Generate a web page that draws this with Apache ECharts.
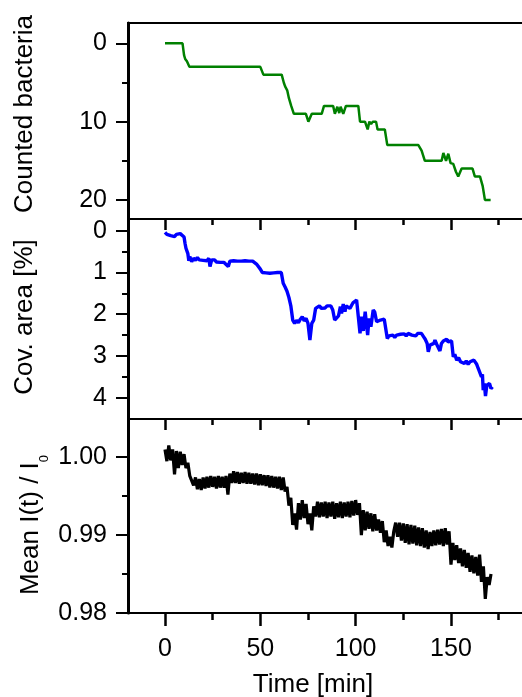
<!DOCTYPE html>
<html><head><meta charset="utf-8">
<script src="https://cdn.jsdelivr.net/npm/echarts@6/dist/echarts.min.js"></script>
<style>html,body{margin:0;padding:0;background:#fff;overflow:hidden}#c{width:522px;height:697px}</style>
</head><body><div id="c"></div>
<script>
// ---- tick values ----
const xTickLabels = [0, 50, 100, 150];
const xMinorTicks = [25, 75, 125, 175];
const countTicks = [0, 10, 20];
const countMinor = [5, 15];
const areaTicks = [0, 1, 2, 3, 4];
const areaMinor = [0.5, 1.5, 2.5, 3.5];
const intensityTicks = [0.98, 0.99, 1.00];
const intensityMinor = [0.985, 0.995];

// ---- data: [time (min), value] ----
const countData = [[0,0],[9.2,0],[10,1.5],[10.6,2],[11.5,2.3],[12.8,3],[50,3],[51.6,4],[61.2,4],[62.3,5],[63,5.5],[64.1,6],[65,7],[66.2,8],[67.6,9],[73.9,9],[75.2,10],[76,10],[77,9],[82.2,9],[83.4,8],[88.2,8],[89.1,9],[90.4,8.1],[91.4,8.9],[92.1,8.1],[93.5,9],[94.9,8],[101.4,8],[102.3,10],[104.9,10],[106.3,11],[107.2,10],[108.1,10.3],[109,10],[110.7,10],[111.5,11],[115.3,11],[116.6,13],[132.9,13],[134.6,13.7],[136.3,15],[145.1,15],[146,14],[147.4,15],[148.6,14.1],[149.8,15.3],[151.2,15.4],[152.6,16.4],[153.8,17],[155.6,16],[161.3,16],[162.5,17],[165.2,17],[166.6,18.2],[167.8,20],[170.8,20]];

const areaData = [[0,0.04],[1,0.09],[2,0.06],[3,0.12],[4,0.10],[5,0.14],[6,0.09],[7,0.12],[8,0.07],[9,0.10],[10,0.15],[10.5,0.30],[11,0.42],[12,0.55],[12.5,0.72],[13,0.62],[14,0.74],[15,0.66],[16,0.71],[17,0.64],[18,0.70],[19,0.66],[20,0.71],[21,0.67],[22,0.72],[23,0.66],[23.6,0.86],[24.5,0.70],[25,0.74],[26,0.70],[27,0.75],[28,0.71],[29,0.76],[30,0.72],[31,0.76],[32,0.72],[33.2,0.86],[34,0.73],[35,0.76],[36,0.72],[37,0.76],[38,0.73],[39,0.77],[40,0.73],[41,0.76],[42,0.72],[43,0.76],[44,0.73],[45,0.77],[46,0.73],[47,0.76],[48,0.80],[49,0.84],[50,0.92],[51,1.00],[52,0.96],[53,1.01],[54,0.97],[55,1.02],[56,0.98],[57,1.01],[58,0.97],[59,1.00],[60,0.97],[61,1.00],[62,1.26],[63,1.35],[64,1.45],[65,1.60],[66,1.80],[67,2.14],[68,2.22],[69,2.15],[70,2.20],[71,2.12],[72,2.06],[73,2.16],[74,2.10],[75,2.22],[76,2.62],[77,2.22],[78,2.14],[79,1.86],[80,1.84],[81,1.80],[82,1.86],[83,1.82],[84,1.85],[85,1.80],[86,1.84],[87,1.80],[88,1.90],[89,2.14],[90,2.10],[91,2.04],[92,1.82],[92.6,1.98],[93.5,1.76],[94.4,1.94],[95,1.80],[96,1.76],[97,1.86],[98,1.90],[98.7,1.72],[99.5,1.70],[100.5,1.66],[101.4,1.68],[102.3,2.46],[103,2.06],[104,2.40],[105,1.94],[106.3,2.50],[107,2.10],[108,2.30],[109.2,1.90],[110,1.95],[111,2.18],[112,2.20],[113,2.14],[114,2.16],[115,2.12],[116,2.16],[116.6,2.58],[117.5,2.52],[118.5,2.56],[119.5,2.50],[120.5,2.56],[121.5,2.50],[122.5,2.54],[123.5,2.48],[124.5,2.52],[125.5,2.47],[126.5,2.52],[127.5,2.46],[128.5,2.42],[129.5,2.50],[130.5,2.46],[131.5,2.52],[132.5,2.46],[133.5,2.50],[134.5,2.46],[135.5,2.53],[136.5,2.60],[137.5,2.70],[138.1,2.90],[139,2.74],[140,2.78],[141,2.70],[141.6,2.62],[142.5,2.72],[143.5,2.68],[144.2,2.88],[145,2.70],[146,2.64],[147,2.68],[147.7,2.60],[148.5,2.66],[149.5,2.62],[150.3,2.64],[151.2,3.02],[152,2.96],[153,3.10],[154,3.04],[155,3.14],[156,3.10],[157,3.18],[158,3.12],[159,3.20],[160,3.14],[161,3.16],[162,3.10],[162.5,3.08],[163.5,3.20],[164.3,3.30],[165,3.26],[166,3.50],[166.5,3.44],[166.9,3.82],[167.5,3.66],[168.1,3.96],[168.8,3.70],[169.5,3.74],[170.2,3.66],[171,3.78],[171.8,3.74]];

const intensityData = [[0,1.0010],[1,0.9995],[2,1.0015],[3,0.9996],[4,1.0010],[5,0.9978],[6,1.0008],[7,0.9986],[8,1.0007],[9,0.9990],[10,1.0004],[11,0.9986],[12,0.9993],[13,0.9976],[14,0.9978],[15,0.9964],[16,0.9974],[17,0.9959],[18,0.9972],[19,0.9958],[20,0.9974],[21,0.9960],[22,0.9975],[23,0.9961],[24,0.9976],[25,0.9962],[26,0.9975],[27,0.9960],[28,0.9976],[29,0.9961],[30,0.9975],[31,0.9961],[32,0.9976],[33,0.9952],[34,0.9979],[35,0.9967],[36,0.9982],[37,0.9967],[38,0.9981],[39,0.9966],[40,0.9980],[41,0.9967],[42,0.9981],[43,0.9966],[44,0.9980],[45,0.9966],[46,0.9979],[47,0.9965],[48,0.9979],[49,0.9964],[50,0.9978],[51,0.9964],[52,0.9977],[53,0.9963],[54,0.9977],[55,0.9961],[56,0.9976],[57,0.9961],[58,0.9975],[59,0.9960],[60,0.9975],[61,0.9958],[62,0.9974],[63,0.9956],[64,0.9962],[65,0.9938],[66,0.9948],[67,0.9913],[68,0.9928],[69,0.9907],[70,0.9941],[71,0.9920],[72,0.9945],[73,0.9922],[74,0.9940],[75,0.9914],[76,0.9928],[77,0.9906],[78,0.9937],[79,0.9924],[80,0.9943],[81,0.9923],[82,0.9942],[83,0.9924],[84,0.9943],[85,0.9922],[86,0.9942],[87,0.9924],[88,0.9943],[89,0.9921],[90,0.9941],[91,0.9923],[92,0.9943],[93,0.9922],[94,0.9942],[95,0.9924],[96,0.9943],[97,0.9923],[98,0.9944],[99,0.9925],[100,0.9945],[101,0.9926],[102,0.9941],[103,0.9900],[104,0.9932],[105,0.9906],[106,0.9930],[107,0.9908],[108,0.9928],[109,0.9905],[110,0.9927],[111,0.9906],[112,0.9920],[113,0.9903],[114,0.9918],[115,0.9891],[116,0.9906],[117,0.9886],[118,0.9898],[119,0.9884],[120,0.9905],[121,0.9916],[122,0.9898],[123,0.9916],[124,0.9893],[125,0.9915],[126,0.9890],[127,0.9914],[128,0.9888],[129,0.9913],[130,0.9889],[131,0.9912],[132,0.9887],[133,0.9910],[134,0.9886],[135,0.9909],[136,0.9884],[137,0.9906],[138,0.9882],[139,0.9904],[140,0.9886],[141,0.9906],[142,0.9887],[143,0.9907],[144,0.9888],[145,0.9908],[146,0.9886],[147,0.9909],[148,0.9888],[149,0.9905],[150,0.9862],[151,0.9890],[152,0.9868],[153,0.9887],[154,0.9864],[155,0.9883],[156,0.9860],[157,0.9881],[158,0.9858],[159,0.9877],[160,0.9853],[161,0.9874],[162,0.9851],[163,0.9872],[164,0.9848],[165,0.9875],[166,0.9840],[167,0.9860],[168,0.9818],[169,0.9846],[170,0.9836],[171,0.9850]];

// ---- layout ----
const FONT = '"Liberation Sans", Arial, Helvetica, sans-serif';
const X_MIN = -19.4, X_MAX = 188.3;
const GL = 128, GW = 396;

const chart = echarts.init(document.getElementById('c'), null, {renderer: 'canvas'});

function grid(top, height) {
  return {show: true, left: GL, top, width: GW, height, borderColor: '#000', borderWidth: 2,
          backgroundColor: 'transparent', containLabel: false, outerBoundsMode: 'none'};
}
function xAx(gi, position, ticks, len, inside, labels, name) {
  const a = {
    type: 'value', gridIndex: gi, position, min: X_MIN, max: X_MAX,
    axisLine: {show: false, onZero: false},
    splitLine: {show: false},
    axisTick: {show: true, inside, length: len, customValues: ticks, lineStyle: {color: '#000', width: 2.5}},
    axisLabel: {show: !!labels, customValues: ticks, margin: 24, fontSize: 25, color: '#000', fontFamily: FONT}
  };
  if (name) {
    a.name = name; a.nameLocation = 'middle'; a.nameGap = 59; a.nameMoveOverlap = false;
    a.nameTextStyle = {fontSize: 26, lineHeight: 26, color: '#000', fontFamily: FONT, padding: [0, 26, 0, 0]};
  }
  return a;
}
function yMajor(gi, min, max, inverse, ticks, fmt, name, nameGap, nameStyle) {
  return {
    type: 'value', gridIndex: gi, position: 'left', min, max, inverse,
    axisLine: {show: true, onZero: false, lineStyle: {color: '#000', width: 3}},
    axisTick: {show: true, inside: false, length: 12, customValues: ticks, lineStyle: {color: '#000', width: 2}},
    axisLabel: {show: true, customValues: ticks, formatter: fmt, margin: 21, fontSize: 25, color: '#000', fontFamily: FONT},
    splitLine: {show: false},
    name, nameLocation: 'middle', nameGap, nameRotate: 90, nameMoveOverlap: false,
    nameTextStyle: nameStyle
  };
}
function yMinor(gi, min, max, inverse, ticks) {
  return {
    type: 'value', gridIndex: gi, position: 'left', min, max, inverse,
    axisLine: {show: false, onZero: false},
    axisTick: {show: true, inside: false, length: 6, customValues: ticks, lineStyle: {color: '#000', width: 2}},
    axisLabel: {show: false},
    splitLine: {show: false}
  };
}

const nameBase = {fontSize: 26, lineHeight: 26, color: '#000', fontFamily: FONT};

const option = {
  animation: false,
  backgroundColor: '#fff',
  grid: [grid(23, 196), grid(219, 200), grid(419, 194)],
  xAxis: [
    xAx(0, 'bottom', [], 0, false, false),
    xAx(1, 'top', xTickLabels, 11, true, false),
    xAx(1, 'top', xMinorTicks, 6, true, false),
    xAx(2, 'top', xTickLabels, 11, true, false),
    xAx(2, 'top', xMinorTicks, 6, true, false),
    xAx(2, 'bottom', xTickLabels, 13, false, true, 'Time [min]'),
    xAx(2, 'bottom', xMinorTicks, 7, false, false)
  ],
  yAxis: [
    yMajor(0, -2.6, 22.44, true, countTicks, v => String(v), 'Counted bacteria', 90,
      Object.assign({}, nameBase, {padding: [0, 0, 0, 14]})),
    yMinor(0, -2.6, 22.44, true, countMinor),
    yMajor(1, -0.28, 4.51, true, areaTicks, v => String(v), 'Cov. area [%]', 90,
      Object.assign({}, nameBase, {padding: [0, 0, 0, 4]})),
    yMinor(1, -0.28, 4.51, true, areaMinor),
    yMajor(2, 0.98, 1.00491, false, intensityTicks, v => v.toFixed(2), '{m|Mean I(t) / I}{sub|0}', 84,
      {color: '#000', fontFamily: FONT, fontSize: 26, padding: [0, 18, 0, 0],
       rich: {
         m: {fontSize: 26, lineHeight: 26, color: '#000', fontFamily: FONT},
         sub: {fontSize: 13, lineHeight: 13, padding: [26, 0, 0, 0], color: '#000', fontFamily: FONT}
       }}),
    yMinor(2, 0.98, 1.00491, false, intensityMinor)
  ],
  series: [
    {type: 'line', xAxisIndex: 0, yAxisIndex: 0, data: countData, showSymbol: false, symbol: 'none',
     lineStyle: {color: '#008000', width: 2.5}, itemStyle: {color: '#008000'}, clip: true},
    {type: 'line', xAxisIndex: 1, yAxisIndex: 2, data: areaData, showSymbol: false, symbol: 'none',
     lineStyle: {color: '#0000ff', width: 3.4}, itemStyle: {color: '#0000ff'}, clip: true},
    {type: 'line', xAxisIndex: 3, yAxisIndex: 4, data: intensityData, showSymbol: false, symbol: 'none',
     lineStyle: {color: '#000000', width: 3.2}, itemStyle: {color: '#000'}, clip: true}
  ]
};
chart.setOption(option);
</script>
</body></html>
